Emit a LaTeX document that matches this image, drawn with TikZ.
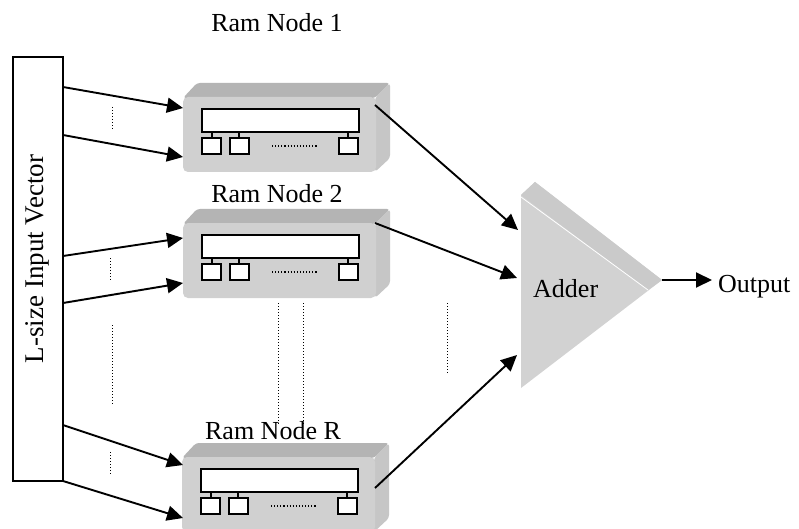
\documentclass[tikz,border=0pt]{standalone}
\usepackage{fontspec}
\setmainfont{Liberation Serif}
\usetikzlibrary{arrows.meta}
\definecolor{facefront}{HTML}{D0D0D0}
\definecolor{facetop}{HTML}{B4B4B4}
\definecolor{faceside}{HTML}{C6C6C6}
\definecolor{addergray}{HTML}{D2D2D2}
\definecolor{addertop}{HTML}{CACACA}
\tikzset{
  link/.style={line width=1.9pt, -{Triangle[length=16pt,width=15pt]}},
  wire/.style={line width=1.4pt},
  dots/.style={dotted, line width=1pt},
  lbl/.style={font=\fontsize{26}{30}\selectfont, inner sep=0pt},
  cell/.style={draw, fill=white, line width=1.4pt},
}
% one RAM block: name, x and y of its top-left corner
\newcommand\ramblock[3]{%
  \begin{scope}[shift={(#2,#3)}]
    \node[inner sep=0pt, minimum width=207pt, minimum height=89pt, anchor=north west] (#1) at (0,0) {};
    \fill[facetop, rounded corners=3pt] (0,15) -- (14,0) -- (207,0) -- (192,15) -- cycle;
    \fill[faceside, rounded corners=3pt] (192,15) -- (207,0) -- (207,75) -- (192,89) -- cycle;
    \fill[facefront, rounded corners=5pt] (0,14) rectangle (193,89);
    \draw[cell] (19,26) rectangle (176,49);
    \draw[wire] (29,49) -- (29,55) (56,49) -- (56,55) (165,49) -- (165,55);
    \draw[cell] (19,55) rectangle (38,71);
    \draw[cell] (47,55) rectangle (66,71);
    \draw[cell] (156,55) rectangle (175,71);
    \draw[dotted, line width=1.1pt] (89,63) -- (135,63);
  \end{scope}}
\begin{document}
\begin{tikzpicture}[x=1pt, y=-1pt]
  \clip (0,0) rectangle (799,529);
  \fill[white] (0,0) rectangle (799,529);

  % input vector
  \node[draw, line width=1.7pt, minimum width=50pt, minimum height=424pt, inner sep=0pt] (vec) at (38,269) {};
  \node[lbl, font=\fontsize{27}{30}\selectfont, rotate=90, anchor=base] (veclbl) at (43,259) {L-size Input Vector};

  % RAM blocks and their captions
  \ramblock{r1}{183}{83}
  \ramblock{r2}{183}{209}
  \ramblock{rR}{182}{443}
  \node[lbl] (t1) at (277,23) {Ram Node 1};
  \node[lbl] (t2) at (277,194) {Ram Node 2};
  \node[lbl] (tR) at (273,431) {Ram Node R};

  % adder
  \fill[addergray] (521,195) -- (535,182) -- (662,280) -- (521,388) -- cycle;
  \fill[addertop] (521,195) -- (535,182) -- (662,280) -- (648,290) -- cycle;
  \draw[white, line width=0.8pt] (521,197) -- (648,290);
  \node[lbl, anchor=base west] (addlbl) at (533,297) {Adder};
  \coordinate (tip) at (662,280);
  \coordinate (outend) at (712,280);
  \node[lbl, anchor=base west] (out) at (718,292) {Output};

  % endpoints of the connectors
  \coordinate (v1) at (63,87);   \coordinate (v2) at (63,135);
  \coordinate (v3) at (63,256);  \coordinate (v4) at (63,303);
  \coordinate (v5) at (63,425);  \coordinate (v6) at (63,481);
  \coordinate (i1) at (183,108); \coordinate (i2) at (183,157);
  \coordinate (i3) at (183,238); \coordinate (i4) at (183,283);
  \coordinate (i5) at (183,465); \coordinate (i6) at (183,518);
  \coordinate (o1) at (375,105); \coordinate (o2) at (375,223); \coordinate (o3) at (375,488);
  \coordinate (a1) at (518,230); \coordinate (a2) at (517,278); \coordinate (a3) at (517,355);

  % inputs
  \draw[link] (v1) -- (i1);
  \draw[link] (v2) -- (i2);
  \draw[link] (v3) -- (i3);
  \draw[link] (v4) -- (i4);
  \draw[link] (v5) -- (i5);
  \draw[link] (v6) -- (i6);

  % block outputs into the adder
  \draw[link] (o1) -- (a1);
  \draw[link] (o2) -- (a2);
  \draw[link] (o3) -- (a3);
  \draw[link] (tip) -- (outend);

  % elision marks
  \draw[dots] (112,107) -- (112,130);
  \draw[dots] (110,258) -- (110,282);
  \draw[dots] (112,325) -- (112,405);
  \draw[dots] (110,452) -- (110,475);
  \draw[dots] (278,303) -- (278,424);
  \draw[dots] (303,303) -- (303,424);
  \draw[dots] (447,303) -- (447,373);
\end{tikzpicture}
\end{document}
